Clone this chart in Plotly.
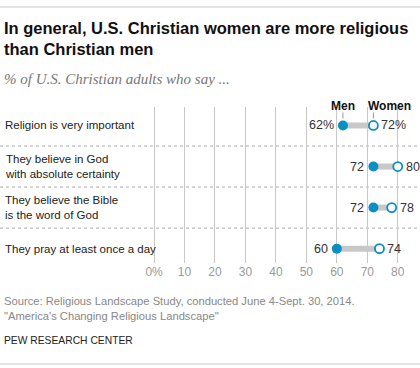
import plotly.graph_objects as go

categories = ["Religion is very important",
              "They believe in God<br>with absolute certainty",
              "They believe the Bible<br>is the word of God",
              "They pray at least once a day"]
men = [62, 72, 72, 60]
women = [72, 80, 78, 74]
men_labels = ["62%", "72", "72", "60"]
women_labels = ["72%", "80", "78", "74"]
tick_vals = [0, 10, 20, 30, 40, 50, 60, 70, 80]
tick_text = ["0%", "10", "20", "30", "40", "50", "60", "70", "80"]

W, H = 420, 368
L, R, T, B = 151, 7, 107, 105
PW, PH = W - L - R, H - T - B

def xp(px):
    return (px - L) / PW

def yp(py):
    return (H - B - py) / PH

BLUE = "#0a8fc2"
GRAY = "#c8c8c8"
FONT = "Liberation Sans"

ypos = list(range(len(categories)))

fig = go.Figure()

cx, cy = [], []
for i in ypos:
    cx += [men[i], women[i], None]
    cy += [i, i, None]
fig.add_trace(go.Scatter(x=cx, y=cy, mode="lines", line=dict(color=GRAY, width=6),
                         hoverinfo="skip", showlegend=False))
fig.add_trace(go.Scatter(x=men, y=ypos, mode="markers",
                         marker=dict(color=BLUE, size=10, line=dict(color=BLUE, width=0)),
                         showlegend=False))
fig.add_trace(go.Scatter(x=women, y=ypos, mode="markers",
                         marker=dict(color="white", size=9, line=dict(color=BLUE, width=1.8)),
                         showlegend=False))

ann = []
for i in ypos:
    ann.append(dict(x=men[i], y=i, text=men_labels[i], showarrow=False, xanchor="right",
                    xshift=-7, font=dict(family=FONT, size=12.5, color="#333")))
    ann.append(dict(x=women[i], y=i, text=women_labels[i], showarrow=False, xanchor="left",
                    xshift=6, font=dict(family=FONT, size=12.5, color="#333")))
    ann.append(dict(xref="paper", x=xp(3), y=i, text=categories[i], showarrow=False,
                    xanchor="left", align="left", font=dict(family=FONT, size=11.5, color="#222")))

ann.append(dict(x=men[0], y=0, text="<b>Men</b>", showarrow=False, yshift=19,
                font=dict(family=FONT, size=12, color="#111")))
ann.append(dict(x=women[0], y=0, text="<b>Women</b>", showarrow=False, yshift=19,
                xanchor="left", xshift=-7, font=dict(family=FONT, size=12, color="#111")))

ann.append(dict(xref="paper", yref="paper", x=xp(2), y=yp(38), xanchor="left", yanchor="middle",
                align="left", showarrow=False,
                text="<b>In general, U.S. Christian women are more religious<br>than Christian men</b>",
                font=dict(family=FONT, size=16.5, color="#111")))
ann.append(dict(xref="paper", yref="paper", x=xp(2), y=yp(79), xanchor="left", yanchor="middle",
                showarrow=False, text="<i>% of U.S. Christian adults who say ...</i>",
                font=dict(family="Liberation Serif", size=15, color="#777")))
ann.append(dict(xref="paper", yref="paper", x=xp(2), y=yp(308), xanchor="left", yanchor="middle",
                align="left", showarrow=False,
                text="Source: Religious Landscape Study, conducted June 4-Sept. 30, 2014.<br>\"America's Changing Religious Landscape\"",
                font=dict(family=FONT, size=11.2, color="#888")))
ann.append(dict(xref="paper", yref="paper", x=xp(2), y=yp(340), xanchor="left", yanchor="middle",
                showarrow=False, text="PEW RESEARCH CENTER",
                font=dict(family=FONT, size=10.3, color="#222")))

shapes = []
for s in [0.5, 1.5, 2.5]:
    shapes.append(dict(type="line", xref="paper", x0=xp(0), x1=xp(420), yref="y", y0=s, y1=s,
                       line=dict(color="#aaa", width=1, dash="dot"), layer="below"))
for yy in [7, 364]:
    shapes.append(dict(type="line", xref="paper", x0=xp(0), x1=xp(420), yref="paper",
                       y0=yp(yy), y1=yp(yy), line=dict(color="#c8c8c8", width=1)))
for v in [men[0], women[0]]:
    shapes.append(dict(type="line", xref="x", x0=v, x1=v, yref="y", ysizemode="pixel",
                       yanchor=0, y0=7, y1=13, line=dict(color="#999", width=1)))

fig.update_layout(
    width=W, height=H, margin=dict(l=L, r=R, t=T, b=B),
    paper_bgcolor="white", plot_bgcolor="white",
    xaxis=dict(range=[-1, 85], tickvals=tick_vals, ticktext=tick_text, showgrid=True,
               gridcolor="#c8c8c8", gridwidth=1, zeroline=False, showline=False,
               tickfont=dict(family=FONT, size=12, color="#999"), ticks="", fixedrange=True),
    yaxis=dict(range=[3.35, -0.45], showticklabels=False, showgrid=False, zeroline=False,
               fixedrange=True),
    annotations=ann, shapes=shapes, showlegend=False,
)

fig.write_html("out.html", config={"displayModeBar": False},
               post_script="document.body.style.margin='0';")
